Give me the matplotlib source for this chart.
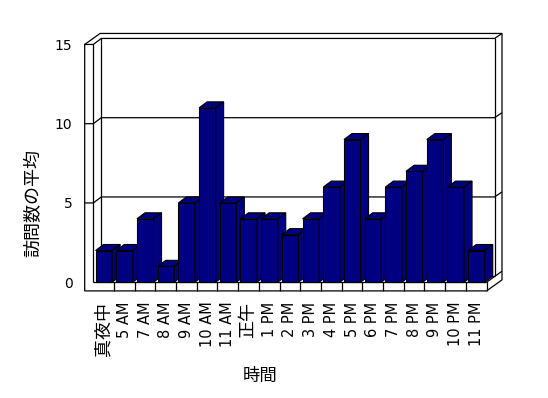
import matplotlib
matplotlib.use("Agg")
import matplotlib.pyplot as plt
from matplotlib.patches import Polygon

plt.rcParams['font.family'] = ['DejaVu Sans', 'Noto Sans CJK JP']

# ---- data ----
categories = ["真夜中", "5 AM", "7 AM", "8 AM", "9 AM", "10 AM", "11 AM", "正午",
              "1 PM", "2 PM", "3 PM", "4 PM", "5 PM", "6 PM", "7 PM", "8 PM",
              "9 PM", "10 PM", "11 PM"]
values = [2, 2, 4, 1, 5, 11, 5, 4, 4, 3, 4, 6, 9, 4, 6, 7, 9, 6, 2]
y_ticks = [0, 5, 10, 15]
y_label = "訪問数の平均"
x_label = "時間"

# ---- styling / geometry ----
W, H = 548, 398
sx, sy = 20.7, 15.85          # px per category / per value unit
x0_px, y0_px = 93.3, 282.2    # front plane origin (px from left / top)
n = len(categories)
ymax = 15

fig = plt.figure(figsize=(W / 100, H / 100), dpi=100)
ax = fig.add_axes([x0_px / W, (H - y0_px) / H, n * sx / W, ymax * sy / H])
ax.set_xlim(0, n)
ax.set_ylim(0, ymax)
ax.patch.set_visible(False)
for s in ax.spines.values():
    s.set_visible(False)

# depth offsets in data units
Dx, Dy = 8.0 / sx, 6.0 / sy        # plot depth
Tx, Ty = 7.4 / sx, 5.0 / sy        # back wall thickness
wl = 8.6 / sx                      # left wall thickness
fl = 8.7 / sy                      # floor thickness
navy = "#000080"
lw = 0.9


def line(pts, z=2):
    xs, ys = zip(*pts)
    ax.plot(xs, ys, color="black", lw=lw, zorder=z, clip_on=False,
            solid_capstyle="butt")


# outer silhouette of walls + floor
outer = [(-wl, -fl), (-wl, ymax), (-wl + Dx + Tx, ymax + Dy + Ty),
         (n + Dx + Tx, ymax + Dy + Ty), (n + Dx + Tx, -fl + Dy + Ty), (n, -fl)]
ax.add_patch(Polygon(outer, closed=True, facecolor="white", edgecolor="black",
                     lw=lw, zorder=1, clip_on=False))

# wall / floor inner edges
line([(0, 0), (0, ymax)])
line([(-wl, ymax), (0, ymax), (Dx, ymax + Dy), (n + Dx, ymax + Dy),
      (n + Dx + Tx, ymax + Dy + Ty)])
line([(Dx, Dy), (Dx, ymax + Dy)])
line([(n + Dx, Dy), (n + Dx, ymax + Dy)])
line([(0, 0), (n, 0), (n, -fl)])
line([(n, 0), (n + Dx + Tx, Dy + Ty)])
line([(Dx, Dy), (n + Dx, Dy)])
for i in range(1, n):
    line([(i, 0), (i, -fl)])

# gridlines
for v in y_ticks[1:-1]:
    line([(-wl, v), (0, v), (Dx, v + Dy), (n + Dx, v + Dy),
          (n + Dx + Tx, v + Dy + Ty)])

# bars
bw, off = 0.8, 0.11
for i, v in enumerate(values):
    x0 = i + off
    x1 = x0 + bw
    z = 3 + i * 0.01
    faces = [
        [(x0, 0), (x1, 0), (x1, v), (x0, v)],
        [(x0, v), (x1, v), (x1 + Dx, v + Dy), (x0 + Dx, v + Dy)],
        [(x1, 0), (x1 + Dx, Dy), (x1 + Dx, v + Dy), (x1, v)],
    ]
    for f in faces:
        ax.add_patch(Polygon(f, closed=True, facecolor=navy, edgecolor="black",
                             lw=0.8, joinstyle="miter", zorder=z, clip_on=False))

# ticks / labels
ax.set_yticks(y_ticks)
ax.set_yticklabels([str(t) for t in y_ticks])
ax.tick_params(axis="y", length=0, pad=15, labelsize=10)
ax.set_xticks([i + 0.5 for i in range(n)])
ax.set_xticklabels(categories, rotation=90)
ax.tick_params(axis="x", length=0, pad=14, labelsize=10.5)
for lbl in ax.get_xticklabels():
    if any(ord(c) > 0x3000 for c in lbl.get_text()):
        lbl.set_fontsize(13)

ax.set_ylabel(y_label, fontsize=13, va="center")
ax.yaxis.set_label_coords((33.5 - x0_px) / (n * sx), (y0_px - 203) / (ymax * sy))
ax.set_xlabel(x_label, fontsize=12.5, va="center")
ax.xaxis.set_label_coords((260 - x0_px) / (n * sx), -(376 - y0_px) / (ymax * sy))

fig.savefig("out.png", dpi=100)
